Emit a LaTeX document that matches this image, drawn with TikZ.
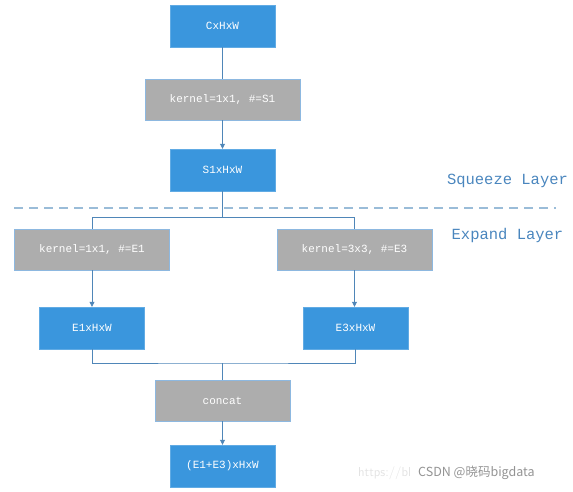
\documentclass[tikz,border=0pt]{standalone}
\usepackage{fontspec}
\setmonofont{Liberation Mono}
\newfontfamily\cjk{Noto Sans CJK SC}
\usetikzlibrary{arrows.meta}
\definecolor{boxblue}{HTML}{3A96DD}
\definecolor{boxgray}{HTML}{ADADAD}
\definecolor{edgeblue}{HTML}{8DB8E0}
\definecolor{linkc}{HTML}{4F86B8}
\definecolor{layerc}{HTML}{4A86BE}
\definecolor{dashc}{HTML}{9ABCD8}
\tikzset{
  bluebox/.style={draw=boxblue!80!white, fill=boxblue, text=white, minimum width=105pt, minimum height=42pt, inner sep=0pt, font=\ttfamily\fontsize{11}{13}\selectfont},
  graybox/.style={draw=edgeblue, line width=0.9pt, fill=boxgray, text=white, minimum width=155pt, minimum height=41pt, inner sep=0pt, font=\ttfamily\fontsize{11}{13}\selectfont},
  link/.style={draw=linkc, line width=0.8pt},
  arr/.style={link, -{Triangle[length=5pt,width=5pt]}},
  layer/.style={text=layerc, font=\ttfamily\fontsize{15.5}{18}\selectfont, inner sep=0pt}
}
\begin{document}
\begin{tikzpicture}[x=1pt,y=-1pt]
\useasboundingbox (0,0) rectangle (573,492);
\node[bluebox] (in) at (222.5,26) {CxHxW};
\node[graybox] (sq) at (222.5,99.5) {kernel=1x1, \#=S1};
\node[bluebox] (s1) at (222.5,170) {S1xHxW};
\node[graybox] (k1) at (92,249.5) {kernel=1x1, \#=E1};
\node[graybox] (k3) at (354.5,249.5) {kernel=3x3, \#=E3};
\node[bluebox] (e1) at (92,328) {E1xHxW};
\node[bluebox] (e3) at (355.5,328) {E3xHxW};
\node[graybox, minimum width=135pt] (cc) at (222.5,400.5) {concat};
\node[bluebox] (out) at (222.5,466) {(E1+E3)xHxW};
\node[layer] (sql) at (507.5,181) {Squeeze Layer};
\node[layer] (exl) at (507.5,235) {Expand Layer};
\coordinate (dl) at (14,208);
\coordinate (dr) at (556,208);
\draw[dashc, line width=1.3pt, dash pattern=on 9pt off 6pt] (dl) -- (dr);
\coordinate (br) at (222.5,217);
\coordinate (jn) at (222.5,363);
\draw[link] (in) -- (sq);
\draw[arr] (sq) -- (s1);
\draw[link] (s1.south) -- (br) -| (k1.north);
\draw[link] (br) -| (k3.north);
\draw[arr] (k1) -- (e1);
\draw[arr] (k3.south) -- (k3.south |- e3.north);
\draw[link] (e1.south) |- (jn) -| (e3.south);
\draw[link] (jn) -- (cc.north);
\draw[arr] (cc) -- (out);
\node[text=gray!22, font=\sffamily\fontsize{13}{15}\selectfont, anchor=west, inner sep=0pt] (url) at (358,473) {https://bl};
\node[text=gray!85, font=\cjk\fontsize{12.5}{15}\selectfont, anchor=west, inner sep=0pt] (wm) at (418,473) {CSDN @晓码bigdata};
\end{tikzpicture}
\end{document}
